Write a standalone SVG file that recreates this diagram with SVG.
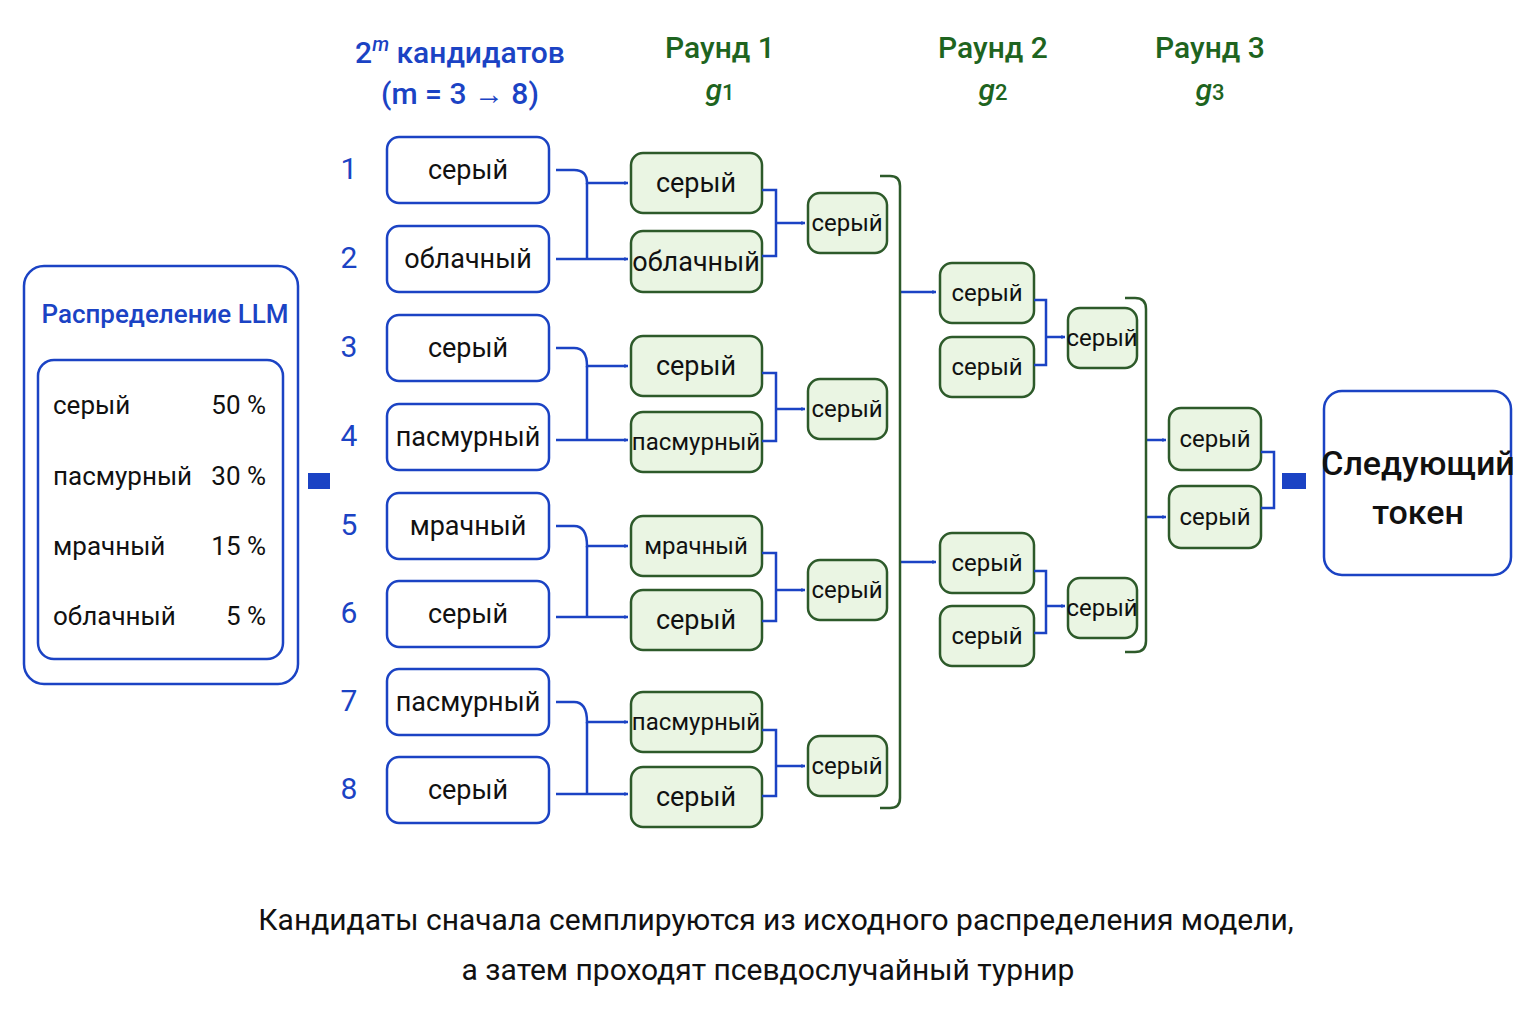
<svg xmlns="http://www.w3.org/2000/svg" width="1536" height="1024" viewBox="0 0 1536 1024">
<defs>
<marker id="ah" viewBox="0 0 10 10" refX="9" refY="5" markerWidth="4" markerHeight="4.5" orient="auto" markerUnits="userSpaceOnUse"><path d="M0,0L10,5L0,10z" fill="#1b43c4"/></marker>
<marker id="a" viewBox="0 0 10 10" refX="10" refY="5" markerWidth="12" markerHeight="16" orient="auto" markerUnits="userSpaceOnUse"><path d="M0,0L10,5L0,10z" fill="#1b43c4"/></marker>
</defs>
<style>
text{font-family:Roboto,"Liberation Sans",sans-serif}
.c{fill:#fff;stroke:#1b43c4;stroke-width:2.5}
.g{fill:#eaf5e3;stroke:#2d5a2a;stroke-width:2.5}
.t{font-size:27px;fill:#111;text-anchor:middle;dominant-baseline:central}
.ts{font-size:24px;fill:#111;text-anchor:middle;dominant-baseline:central}
.n{font-size:30px;fill:#1b43c4;text-anchor:middle;dominant-baseline:central}
.h{font-size:30px;fill:#1e6420;text-anchor:middle;font-weight:500}
.b{fill:none;stroke:#1b43c4;stroke-width:2.5}
.gb{fill:none;stroke:#2d5a2a;stroke-width:2.5}
.r{font-size:26px;fill:#111;dominant-baseline:central}
</style>
<rect width="1536" height="1024" fill="#fff"/>
<g id="headers">
<text x="460" y="63" style="font-size:30px;fill:#1b43c4;text-anchor:middle;font-weight:500">2<tspan font-size="20" font-style="italic" dy="-12">m</tspan><tspan dy="12"> кандидатов</tspan></text>
<text x="460" y="104" style="font-size:30px;fill:#1b43c4;text-anchor:middle;font-weight:500">(m = 3 → 8)</text>
<text x="720" y="58" class="h">Раунд 1</text>
<text x="720" y="100" class="h" font-style="italic">g<tspan font-size="22" font-style="normal">1</tspan></text>
<text x="993" y="58" class="h">Раунд 2</text>
<text x="993" y="100" class="h" font-style="italic">g<tspan font-size="22" font-style="normal">2</tspan></text>
<text x="1210" y="58" class="h">Раунд 3</text>
<text x="1210" y="100" class="h" font-style="italic">g<tspan font-size="22" font-style="normal">3</tspan></text>
</g>
<g id="llm">
<rect x="24" y="266" width="274" height="418" rx="20" class="c"/>
<text x="165" y="314" style="font-size:26px;fill:#1b43c4;text-anchor:middle;dominant-baseline:central;font-weight:500">Распределение LLM</text>
<rect x="38" y="360" width="245" height="299" rx="16" class="c"/>
<text x="53" y="405" class="r">серый</text><text x="266" y="405" class="r" text-anchor="end">50 %</text>
<text x="53" y="476" class="r">пасмурный</text><text x="266" y="476" class="r" text-anchor="end">30 %</text>
<text x="53" y="546" class="r">мрачный</text><text x="266" y="546" class="r" text-anchor="end">15 %</text>
<text x="53" y="616" class="r">облачный</text><text x="266" y="616" class="r" text-anchor="end">5 %</text>
</g>
<g id="candidates">
<text x="349" y="168" class="n">1</text><rect x="387" y="137" width="162" height="66" rx="12" class="c"/><text x="468" y="170" class="t">серый</text>
<text x="349" y="257" class="n">2</text><rect x="387" y="226" width="162" height="66" rx="12" class="c"/><text x="468" y="259" class="t">облачный</text>
<text x="349" y="346" class="n">3</text><rect x="387" y="315" width="162" height="66" rx="12" class="c"/><text x="468" y="348" class="t">серый</text>
<text x="349" y="435" class="n">4</text><rect x="387" y="404" width="162" height="66" rx="12" class="c"/><text x="468" y="437" class="t">пасмурный</text>
<text x="349" y="524" class="n">5</text><rect x="387" y="493" width="162" height="66" rx="12" class="c"/><text x="468" y="526" class="t">мрачный</text>
<text x="349" y="612" class="n">6</text><rect x="387" y="581" width="162" height="66" rx="12" class="c"/><text x="468" y="614" class="t">серый</text>
<text x="349" y="700" class="n">7</text><rect x="387" y="669" width="162" height="66" rx="12" class="c"/><text x="468" y="702" class="t">пасмурный</text>
<text x="349" y="788" class="n">8</text><rect x="387" y="757" width="162" height="66" rx="12" class="c"/><text x="468" y="790" class="t">серый</text>
</g>
<g id="round1">
<rect x="631" y="153" width="131" height="60" rx="12" class="g"/><text x="696" y="183" class="t">серый</text>
<rect x="631" y="231" width="131" height="61" rx="12" class="g"/><text x="696" y="262" class="t">облачный</text>
<rect x="631" y="336" width="131" height="60" rx="12" class="g"/><text x="696" y="366" class="t">серый</text>
<rect x="631" y="412" width="131" height="60" rx="12" class="g"/><text x="696" y="442" class="ts">пасмурный</text>
<rect x="631" y="516" width="131" height="60" rx="12" class="g"/><text x="696" y="546" class="ts">мрачный</text>
<rect x="631" y="590" width="131" height="60" rx="12" class="g"/><text x="696" y="620" class="t">серый</text>
<rect x="631" y="692" width="131" height="60" rx="12" class="g"/><text x="696" y="722" class="ts">пасмурный</text>
<rect x="631" y="767" width="131" height="60" rx="12" class="g"/><text x="696" y="797" class="t">серый</text>
</g>
<g id="round1win">
<rect x="808" y="193" width="79" height="60" rx="12" class="g"/><text x="847" y="223" class="ts">серый</text>
<rect x="808" y="379" width="79" height="60" rx="12" class="g"/><text x="847" y="409" class="ts">серый</text>
<rect x="808" y="560" width="79" height="60" rx="12" class="g"/><text x="847" y="590" class="ts">серый</text>
<rect x="808" y="736" width="79" height="60" rx="12" class="g"/><text x="847" y="766" class="ts">серый</text>
</g>
<g id="round2">
<rect x="940" y="263" width="94" height="60" rx="12" class="g"/><text x="987" y="293" class="ts">серый</text>
<rect x="940" y="337" width="94" height="60" rx="12" class="g"/><text x="987" y="367" class="ts">серый</text>
<rect x="940" y="533" width="94" height="60" rx="12" class="g"/><text x="987" y="563" class="ts">серый</text>
<rect x="940" y="606" width="94" height="60" rx="12" class="g"/><text x="987" y="636" class="ts">серый</text>
<rect x="1068" y="308" width="69" height="60" rx="12" class="g"/><text x="1102" y="338" class="ts">серый</text>
<rect x="1068" y="578" width="69" height="60" rx="12" class="g"/><text x="1102" y="608" class="ts">серый</text>
</g>
<g id="round3">
<rect x="1169" y="408" width="92" height="62" rx="12" class="g"/><text x="1215" y="439" class="ts">серый</text>
<rect x="1169" y="486" width="92" height="62" rx="12" class="g"/><text x="1215" y="517" class="ts">серый</text>
</g>
<g id="final">
<rect x="1324" y="391" width="187" height="184" rx="18" class="c"/>
<text x="1418" y="463" style="font-size:34px;fill:#111;text-anchor:middle;dominant-baseline:central;font-weight:500">Следующий</text>
<text x="1418" y="512" style="font-size:34px;fill:#111;text-anchor:middle;dominant-baseline:central;font-weight:500">токен</text>
</g>
<g id="connectors">
<path d="M308,481h22" stroke="#1b43c4" stroke-width="16" fill="none" marker-end="url(#a)"/>
<path d="M1282,481h24" stroke="#1b43c4" stroke-width="16" fill="none" marker-end="url(#a)"/>
<g class="b" marker-end="url(#ah)">
<path d="M556,170h18q13,0 13,13h41"/><path d="M556,259h72"/>
<path d="M556,348h18q13,0 13,18h41"/><path d="M556,440h72"/>
<path d="M556,526h18q13,0 13,20h41"/><path d="M556,617h72"/>
<path d="M556,702h18q13,0 13,20h41"/><path d="M556,794h72"/>
<path d="M776,223h29"/><path d="M776,409h29"/><path d="M776,590h29"/><path d="M776,766h29"/>
<path d="M900,292h36"/><path d="M900,562h36"/>
<path d="M1046,337h19"/><path d="M1046,606h19"/>
<path d="M1146,440h20"/><path d="M1146,517h20"/>
</g>
<g class="b">
<path d="M587,183v76"/><path d="M587,366v74"/><path d="M587,546v71"/><path d="M587,722v72"/>
<path d="M762,190h14v66h-14"/><path d="M762,373h14v68h-14"/><path d="M762,553h14v68h-14"/><path d="M762,730h14v66h-14"/>
<path d="M1034,300h12v65h-12"/><path d="M1034,571h12v62h-12"/>
<path d="M1261,452h13v56h-13"/>
</g>
<g class="gb">
<path d="M880,176h10q10,0 10,10v612q0,10-10,10h-10"/>
<path d="M1125,298h10q11,0 11,11v332q0,11-11,11h-10"/>
</g>
</g>
<g id="caption">
<text x="776" y="930" style="font-size:30px;fill:#111;text-anchor:middle">Кандидаты сначала семплируются из исходного распределения модели,</text>
<text x="768" y="980" style="font-size:30px;fill:#111;text-anchor:middle">а затем проходят псевдослучайный турнир</text>
</g>
</svg>
